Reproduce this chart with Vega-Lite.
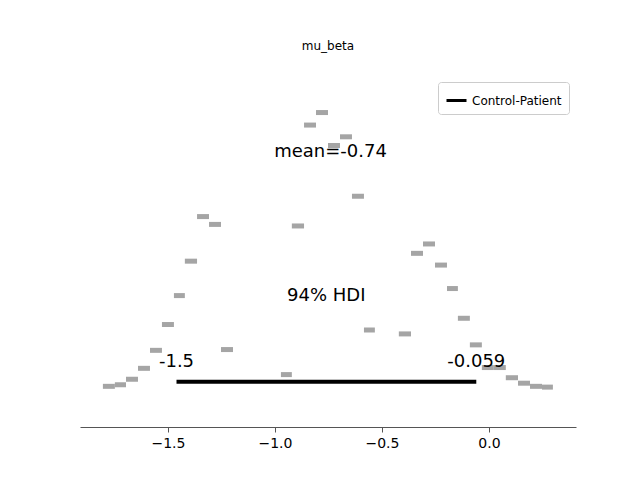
{
"$schema":"https://vega.github.io/schema/vega-lite/v6.json",
"width":496,"height":352,"autosize":"none",
"padding":{"left":80,"top":75,"right":64,"bottom":53},
"config":{"font":"DejaVu Sans","view":{"stroke":null}},
"title":{"text":"mu_beta","fontSize":12,"fontWeight":"normal","offset":22},
"datasets":{"bins":[
{"a":-1.804,"b":-1.748,"h":2},{"a":-1.748,"b":-1.696,"h":4},{"a":-1.696,"b":-1.640,"h":11},{"a":-1.640,"b":-1.584,"h":25},{"a":-1.584,"b":-1.528,"h":48},{"a":-1.528,"b":-1.472,"h":81},{"a":-1.472,"b":-1.421,"h":118},{"a":-1.421,"b":-1.364,"h":162},{"a":-1.364,"b":-1.308,"h":219},{"a":-1.308,"b":-1.252,"h":209},{"a":-1.252,"b":-1.196,"h":49},
{"a":-0.972,"b":-0.921,"h":17},{"a":-0.921,"b":-0.864,"h":207},{"a":-0.864,"b":-0.808,"h":336},{"a":-0.808,"b":-0.752,"h":352},{"a":-0.752,"b":-0.696,"h":310},{"a":-0.696,"b":-0.640,"h":321},{"a":-0.640,"b":-0.584,"h":245},{"a":-0.584,"b":-0.533,"h":74},
{"a":-0.421,"b":-0.364,"h":69},{"a":-0.364,"b":-0.308,"h":172},{"a":-0.308,"b":-0.252,"h":184},{"a":-0.252,"b":-0.196,"h":157},{"a":-0.196,"b":-0.145,"h":127},{"a":-0.145,"b":-0.089,"h":89},{"a":-0.089,"b":-0.033,"h":55},{"a":-0.033,"b":0.023,"h":26},{"a":0.023,"b":0.079,"h":26},{"a":0.079,"b":0.136,"h":13},{"a":0.136,"b":0.192,"h":6},{"a":0.192,"b":0.248,"h":2},{"a":0.248,"b":0.299,"h":1}],
"hdi":[{"lo":-1.46,"hi":-0.059,"y":8,"s":"Control-Patient"}],
"txt":[{"x":-0.74,"y":302,"t":"mean=-0.74"},{"x":-0.76,"y":118,"t":"94% HDI"},{"x":-1.46,"y":33,"t":"-1.5"},{"x":-0.059,"y":33,"t":"-0.059"}]},
"layer":[
{"data":{"name":"bins"},"mark":{"type":"bar","color":"#a5a5a5"},
"encoding":{"x":{"field":"a","type":"quantitative","scale":{"domain":[-1.911,0.407],"nice":false,"zero":false},
"axis":{"values":[-1.5,-1,-0.5,0],"format":".1f","title":null,"labelFontSize":14,"labelColor":"black","domainColor":"#555","tickColor":"#555","grid":false,"labelPadding":4}},
"x2":{"field":"b"},"y":{"field":"h","type":"quantitative","scale":{"domain":[0,352]},"axis":null}}},
{"data":{"name":"hdi"},"mark":{"type":"rule","strokeWidth":4},
"encoding":{"x":{"field":"lo","type":"quantitative"},"x2":{"field":"hi"},"y":{"field":"y","type":"quantitative"},
"color":{"field":"s","type":"nominal","scale":{"range":["black"]},
"legend":{"title":null,"orient":"top-right","offset":7,"symbolType":"stroke","symbolStrokeWidth":3,"symbolSize":400,"labelFontSize":12,"strokeColor":"#ccc","cornerRadius":3,"padding":7,"fillColor":"white"}}}},
{"data":{"name":"txt"},"mark":{"type":"text","fontSize":18,"baseline":"middle","color":"black"},
"encoding":{"x":{"field":"x","type":"quantitative"},"y":{"field":"y","type":"quantitative"},"text":{"field":"t","type":"nominal"}}}
]}
